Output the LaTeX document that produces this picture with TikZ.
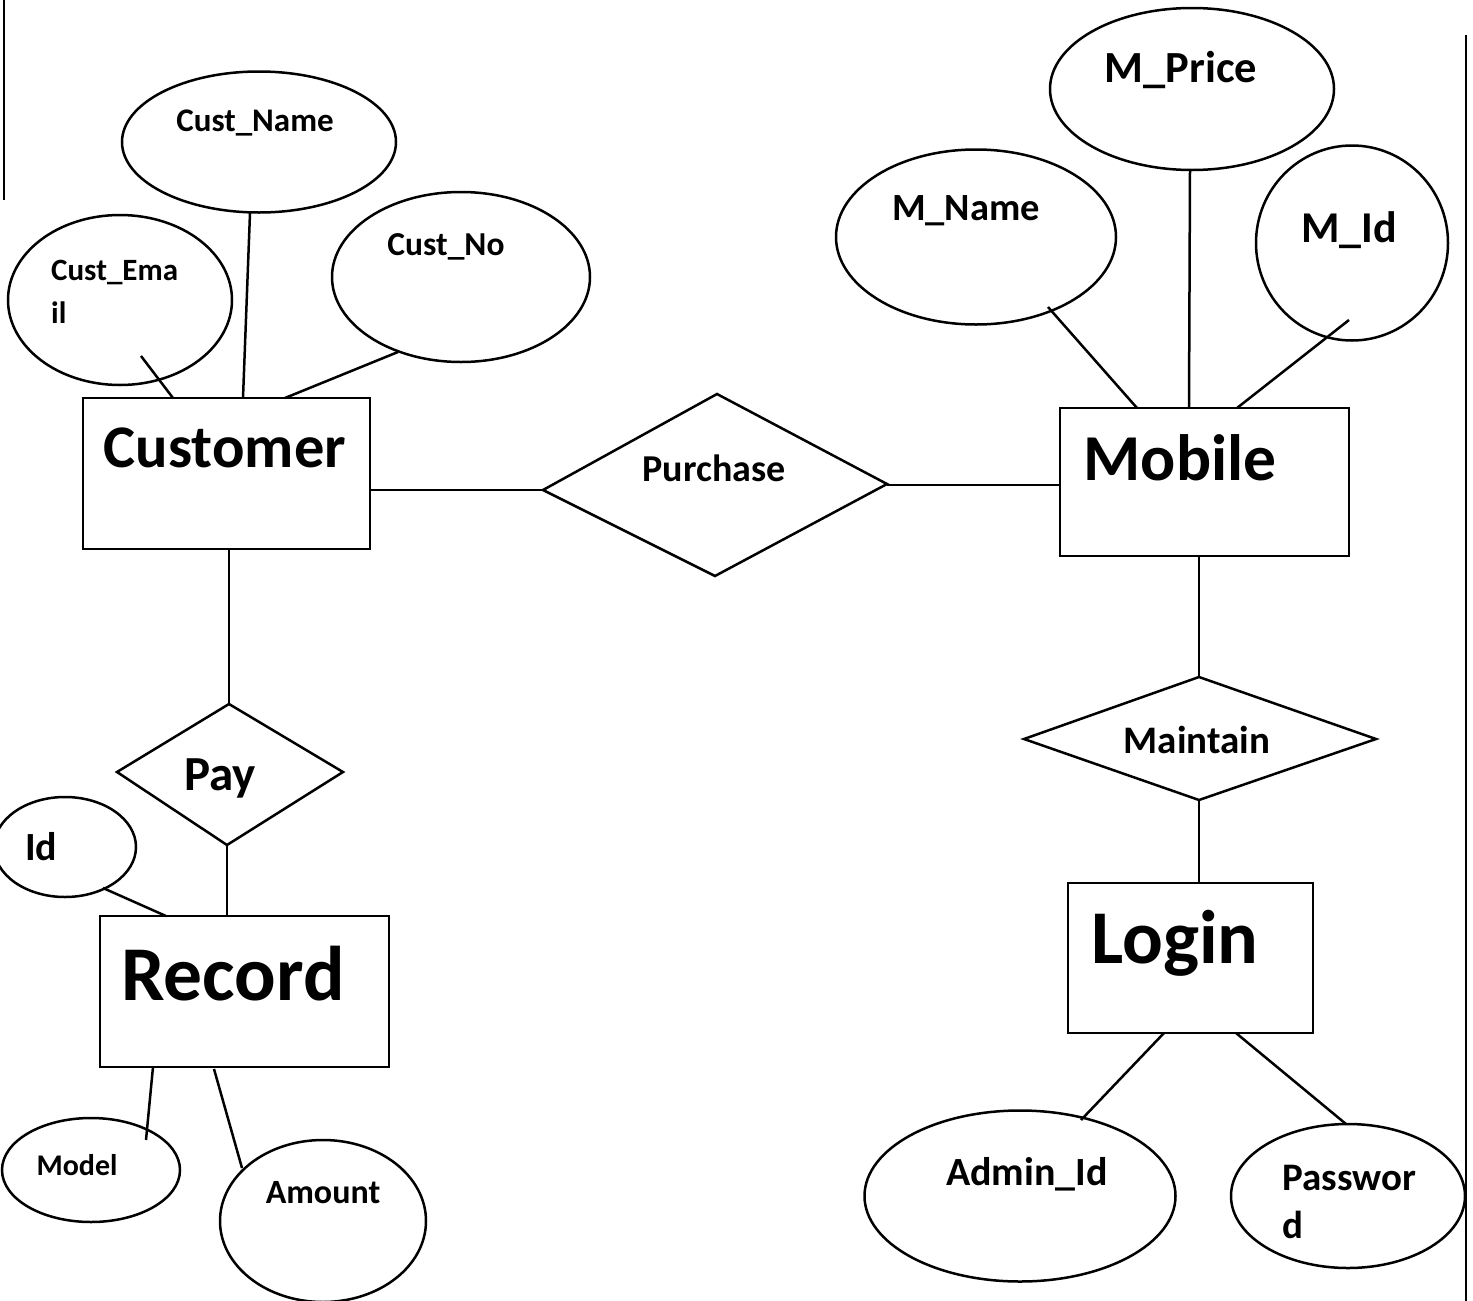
\documentclass[tikz,border=0pt]{standalone}
\usepackage{fontspec}
\setmainfont{Carlito}
\usetikzlibrary{shapes.geometric}
\tikzset{
  ent/.style={draw, rectangle, line width=2.5pt, inner sep=0pt},
  attr/.style={draw, ellipse, line width=2.5pt, inner sep=0pt},
  rel/.style={draw, line width=2.5pt},
  conn/.style={line width=2.5pt},
  lbl/.style={inner sep=0pt, anchor=base, font=\bfseries},
  lblw/.style={inner sep=0pt, anchor=base west, font=\bfseries},
}
\newcommand{\fs}[1]{\fontsize{#1}{#1}\selectfont}
\begin{document}
\begin{tikzpicture}[x=1pt,y=-1pt]
\useasboundingbox (0,0) rectangle (1473,1301);
\fill[white] (0,0) rectangle (1473,1301);
% scan page edges
\draw[line width=2pt] (4,0) -- (4,200);
\draw[line width=2.5pt] (1466,35) -- (1466,1301);

% entities
\node[ent, minimum width=287pt, minimum height=151pt] (customer) at (226.5,473.5) {};
\node[ent, minimum width=289pt, minimum height=148pt] (mobile) at (1204.5,482) {};
\node[ent, minimum width=289pt, minimum height=151pt] (record) at (244.5,991.5) {};
\node[ent, minimum width=245pt, minimum height=150pt] (login) at (1190.5,958) {};

\node[lbl] (customer-t) at (225,467) {\fs{60.5}Customer};
\node[lbl] (mobile-t) at (1180,480) {\fs{65.5}Mobile};
\node[lbl] (record-t) at (233,1000) {\fs{77.5}Record};
\node[lbl] (login-t) at (1175,963) {\fs{76}Login};

% relationships
\draw[rel] (543,490) -- (717,394) -- (887,484) -- (715,576) -- cycle;
\coordinate (purL) at (543,490); \coordinate (purR) at (887,485);
\node[lbl] (purchase-t) at (714,481) {\fs{38}Purchase};

\draw[rel] (117,772) -- (229,704) -- (343,772) -- (227,845) -- cycle;
\coordinate (payT) at (229,704); \coordinate (payB) at (227,845);
\node[lbl] (pay-t) at (220,790) {\fs{49}Pay};

\draw[rel] (1024,739) -- (1199,677) -- (1376,739) -- (1199,800) -- cycle;
\coordinate (maiT) at (1199,677); \coordinate (maiB) at (1199,800);
\node[lbl] (maintain-t) at (1197,753) {\fs{39}Maintain};

% attributes
\node[attr, minimum width=274pt, minimum height=141pt] (custname) at (259,142) {};
\node[lbl] (custname-t) at (255,131) {\fs{33}Cust\_Name};
\node[attr, minimum width=224pt, minimum height=170pt] (custemail) at (120,300) {};
\node[lblw] (custemail-t1) at (51,280) {\fs{31}Cust\_Ema};
\node[lblw] (custemail-t2) at (51,323) {\fs{31}il};
\node[attr, minimum width=258pt, minimum height=170pt] (custno) at (461,277) {};
\node[lbl] (custno-t) at (446,255) {\fs{33.5}Cust\_No};

\node[attr, minimum width=284pt, minimum height=162pt] (mprice) at (1192,89) {};
\node[lbl] (mprice-t) at (1181,82) {\fs{44.5}M\_Price};
\node[attr, minimum width=280pt, minimum height=175pt] (mname) at (976,237) {};
\node[lbl] (mname-t) at (966,220) {\fs{38.5}M\_Name};
\node[attr, minimum width=192pt, minimum height=195pt] (mid) at (1352,243) {};
\node[lbl] (mid-t) at (1349,242) {\fs{44}M\_Id};

\node[attr, minimum width=311pt, minimum height=171pt] (adminid) at (1020,1196) {};
\node[lbl] (adminid-t) at (1027,1185) {\fs{40}Admin\_Id};
\node[attr, minimum width=234pt, minimum height=144pt] (password) at (1348,1196) {};
\node[lblw] (password-t1) at (1282,1190) {\fs{39}Passwor};
\node[lblw] (password-t2) at (1282,1238) {\fs{39}d};

\node[attr, minimum width=142pt, minimum height=100pt] (id) at (65,847) {};
\node[lblw] (id-t) at (25,860) {\fs{40}Id};
\node[attr, minimum width=178pt, minimum height=104pt] (model) at (91,1170) {};
\node[lbl] (model-t) at (77,1175) {\fs{30}Model};
\node[attr, minimum width=206pt, minimum height=162pt] (amount) at (323,1221) {};
\node[lbl] (amount-t) at (323,1203) {\fs{34}Amount};

% attach points
\coordinate (ce1) at (141,356); \coordinate (ce2) at (173,398);
\coordinate (cn1) at (250,213); \coordinate (cn2) at (243,398);
\coordinate (co1) at (398,352); \coordinate (co2) at (285,398);
\coordinate (mn1) at (1048,307); \coordinate (mn2) at (1137,408);
\coordinate (mp1) at (1190,170); \coordinate (mp2) at (1189,408);
\coordinate (mi1) at (1349,320); \coordinate (mi2) at (1237,408);
\coordinate (la1) at (1164,1033); \coordinate (la2) at (1081,1120);
\coordinate (lp1) at (1236,1033); \coordinate (lp2) at (1346,1124);
\coordinate (ri1) at (103,888); \coordinate (ri2) at (166,916);
\coordinate (rm1) at (153,1067); \coordinate (rm2) at (146,1140);
\coordinate (ra1) at (214,1069); \coordinate (ra2) at (242,1168);

% connectors
\draw[conn] (ce1) -- (ce2);
\draw[conn] (cn1) -- (cn2);
\draw[conn] (co1) -- (co2);
\draw[conn] (mn1) -- (mn2);
\draw[conn] (mp1) -- (mp2);
\draw[conn] (mi1) -- (mi2);
\draw[conn] (la1) -- (la2);
\draw[conn] (lp1) -- (lp2);
\draw[conn] (ri1) -- (ri2);
\draw[conn] (rm1) -- (rm2);
\draw[conn] (ra1) -- (ra2);
\draw[conn] (customer.east |- purL) -- (purL);
\draw[conn] (purR) -- (mobile.west |- purR);
\draw[conn] (customer.south -| payT) -- (payT);
\draw[conn] (payB) -- (record.north -| payB);
\draw[conn] (mobile.south -| maiT) -- (maiT);
\draw[conn] (maiB) -- (login.north -| maiB);
\end{tikzpicture}
\end{document}
